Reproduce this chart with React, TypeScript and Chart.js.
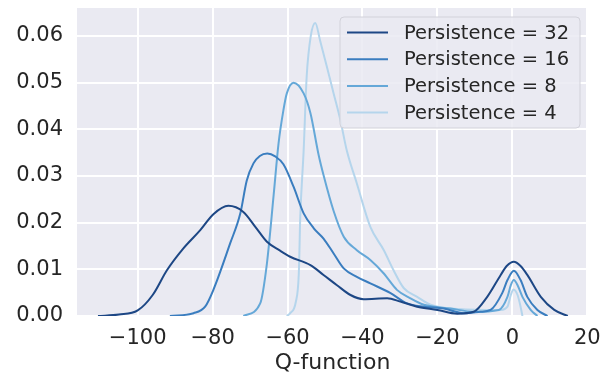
import React, { useEffect, useRef } from "react";
import { Chart, registerables } from "chart.js";

Chart.register(...registerables);

const xTicks = [-100, -80, -60, -40, -20, 0, 20];
const yTicks = [0, 0.01, 0.02, 0.03, 0.04, 0.05, 0.06];
const xTitle = "Q-function";

const seriesLabels = ["Persistence = 32", "Persistence = 16", "Persistence = 8", "Persistence = 4"];
const seriesColors = ["#1d4785", "#3a7dbf", "#65a8d8", "#b5d5ec"];

const x32 = [-110.6, -105, -100, -96, -92.2, -87.8, -83.3, -79.8, -75.8, -71.8, -68.5, -65.5, -62, -59.3, -53.9, -50.4, -46.8, -43.2, -39.7, -33.4, -29.9, -25.4, -20, -14.7, -10.3, -6.7, -3.1, -1.5, 0.4, 2.2, 4, 7.6, 11.2, 14.8];
const y32 = [0, 0.0003, 0.0012, 0.0045, 0.0098, 0.0145, 0.0184, 0.0218, 0.0236, 0.0223, 0.019, 0.0159, 0.014, 0.0127, 0.0109, 0.0088, 0.0066, 0.0045, 0.0036, 0.0038, 0.0031, 0.002, 0.0013, 0.0005, 0.0009, 0.0041, 0.0088, 0.0107, 0.0116, 0.0107, 0.0088, 0.0041, 0.0013, 0];

const x16 = [-91.4, -85.1, -82, -79.8, -75.3, -72.6, -70.9, -69.1, -67.4, -65.4, -63.3, -61.1, -58.4, -55.7, -53, -50.4, -47.7, -45, -41.5, -37.9, -32.5, -28.1, -23.6, -18.3, -12.9, -8.5, -5.8, -2.7, -1.3, 0.4, 2.2, 4, 6.7, 9.4];
const y16 = [0, 0.0006, 0.002, 0.0056, 0.0156, 0.022, 0.029, 0.0327, 0.0343, 0.0348, 0.0342, 0.0325, 0.0277, 0.022, 0.0188, 0.0166, 0.0134, 0.0102, 0.0084, 0.007, 0.0049, 0.0027, 0.002, 0.0016, 0.0006, 0.0009, 0.0013, 0.0049, 0.0077, 0.0097, 0.0077, 0.0041, 0.0013, 0];

const x8 = [-71.8, -67.3, -65.5, -63.7, -62.4, -61.1, -60.2, -58.4, -55.7, -53.9, -51.7, -50.4, -47.7, -45, -41.5, -37.9, -34.3, -30.8, -27.2, -23.6, -16.5, -10.3, -3.6, -1.3, -0.4, 0.4, 1.4, 2.7, 4.9, 6.7];
const y8 = [0, 0.0027, 0.0113, 0.026, 0.037, 0.0441, 0.0477, 0.05, 0.0477, 0.0435, 0.0345, 0.0302, 0.0225, 0.017, 0.0141, 0.012, 0.0091, 0.0056, 0.0038, 0.0024, 0.0016, 0.0009, 0.0013, 0.0041, 0.0066, 0.0077, 0.0066, 0.0041, 0.0013, 0];

const x4 = [-60.2, -59.3, -57.8, -57, -56.6, -55.7, -54.9, -53.8, -52.6, -51.3, -49.5, -47.7, -45.9, -44.2, -41.5, -37.9, -34.3, -31.7, -29, -25.4, -21.8, -16.5, -6.7, -3.1, -1.3, -0.4, 0.3, 1.4, 2.2, 2.7];
const y4 = [0, 0.0006, 0.003, 0.009, 0.0213, 0.0355, 0.0512, 0.06, 0.0628, 0.059, 0.0534, 0.0477, 0.042, 0.0355, 0.0284, 0.0191, 0.0141, 0.0098, 0.006, 0.0041, 0.0024, 0.0016, 0.0013, 0.0013, 0.002, 0.0045, 0.0057, 0.0045, 0.002, 0];

const seriesX = [x32, x16, x8, x4];
const seriesY = [y32, y16, y8, y4];

const FONT = "DejaVu Sans";
const TEXT = "#262626";

const bgPlugin = {
  id: "bgPlugin",
  beforeDraw(chart: any) {
    const { ctx, chartArea } = chart;
    ctx.save();
    ctx.fillStyle = "#EAEAF2";
    ctx.fillRect(chartArea.left, chartArea.top, chartArea.right - chartArea.left, chartArea.bottom - chartArea.top);
    ctx.restore();
  },
};

const legendPlugin = {
  id: "boxLegend",
  afterDatasetsDraw(chart: any) {
    const { ctx, chartArea } = chart;
    const w = 240;
    const h = 111;
    const x = chartArea.right - 8 - w;
    const y = chartArea.top + 9;
    const r = 4;
    ctx.save();
    ctx.beginPath();
    ctx.moveTo(x + r, y);
    ctx.lineTo(x + w - r, y);
    ctx.arcTo(x + w, y, x + w, y + r, r);
    ctx.lineTo(x + w, y + h - r);
    ctx.arcTo(x + w, y + h, x + w - r, y + h, r);
    ctx.lineTo(x + r, y + h);
    ctx.arcTo(x, y + h, x, y + h - r, r);
    ctx.lineTo(x, y + r);
    ctx.arcTo(x, y, x + r, y, r);
    ctx.closePath();
    ctx.fillStyle = "rgba(234,234,242,0.85)";
    ctx.fill();
    ctx.strokeStyle = "#d2d2da";
    ctx.lineWidth = 1;
    ctx.stroke();
    ctx.font = `19.5px "${FONT}"`;
    ctx.textBaseline = "middle";
    ctx.textAlign = "left";
    seriesLabels.forEach((label, i) => {
      const ly = y + 15.5 + i * 26.7;
      ctx.beginPath();
      ctx.strokeStyle = seriesColors[i];
      ctx.lineWidth = 2;
      ctx.moveTo(x + 7, ly);
      ctx.lineTo(x + 48, ly);
      ctx.stroke();
      ctx.fillStyle = TEXT;
      ctx.fillText(label, x + 64, ly + 1);
    });
    ctx.restore();
  },
};

export default function App() {
  const ref = useRef<HTMLCanvasElement | null>(null);
  useEffect(() => {
    const canvas = ref.current;
    if (!canvas) return;
    const chart = new Chart(canvas, {
      type: "line",
      data: {
        datasets: seriesLabels.map((label, i) => ({
          label,
          data: seriesX[i].map((xv, j) => ({ x: xv, y: seriesY[i][j] })),
          borderColor: seriesColors[i],
          backgroundColor: seriesColors[i],
          borderWidth: 2,
          pointRadius: 0,
          cubicInterpolationMode: "monotone" as const,
          fill: false,
        })),
      },
      options: {
        responsive: false,
        animation: false,
        devicePixelRatio: 1,
        layout: { autoPadding: false, padding: { top: 8, right: 27, left: 0, bottom: 0 } },
        plugins: { legend: { display: false }, tooltip: { enabled: false }, title: { display: false } },
        scales: {
          x: {
            type: "linear",
            min: -116.2,
            max: 20.2,
            afterBuildTicks: (scale: any) => {
              scale.ticks = xTicks.map((v) => ({ value: v }));
            },
            afterFit: (scale: any) => {
              scale.height = 56;
              scale.paddingLeft = 0;
              scale.paddingRight = 0;
            },
            grid: { color: "#ffffff", lineWidth: 2, drawTicks: false },
            border: { display: false },
            ticks: {
              color: TEXT,
              font: { family: FONT, size: 21 },
              padding: 10,
              maxRotation: 0,
              autoSkip: false,
              callback: (v: any) => (Number(v) < 0 ? "\u2212" + Math.abs(Number(v)) : String(v)),
            },
            title: {
              display: true,
              text: xTitle,
              color: TEXT,
              font: { family: FONT, size: 22, lineHeight: 1 },
              padding: { top: 0, bottom: -2 },
            },
          },
          y: {
            type: "linear",
            min: 0,
            max: 0.066,
            afterBuildTicks: (scale: any) => {
              scale.ticks = yTicks.map((v) => ({ value: v }));
            },
            afterFit: (scale: any) => {
              scale.width = 77;
              scale.paddingTop = 0;
              scale.paddingBottom = 0;
            },
            grid: { color: "#ffffff", lineWidth: 2, drawTicks: false },
            border: { display: false },
            ticks: {
              color: TEXT,
              font: { family: FONT, size: 21 },
              padding: 14,
              autoSkip: false,
              callback: (v: any) => Number(v).toFixed(2),
            },
          },
        },
      },
      plugins: [bgPlugin, legendPlugin],
    });
    return () => chart.destroy();
  }, []);
  return (
    <div style={{ position: "fixed", left: 0, top: 0, width: 615, height: 372, background: "#ffffff" }}>
      <canvas ref={ref} width={615} height={372} style={{ display: "block" }} />
    </div>
  );
}
